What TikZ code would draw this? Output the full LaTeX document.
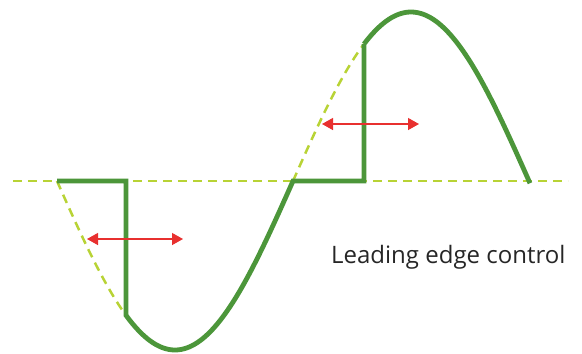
\documentclass[tikz,border=0pt]{standalone}
\usepackage{fontspec}
\setmainfont{Open Sans}
\usetikzlibrary{arrows.meta}
\definecolor{wavegreen}{HTML}{4C963A}
\definecolor{limedash}{HTML}{B8D335}
\definecolor{arrowred}{HTML}{E8302F}
\begin{document}
\begin{tikzpicture}[x=1pt, y=-1pt,
    wave/.style={line width=4.8pt, wavegreen, line join=miter},
    ghost/.style={line width=2.5pt, limedash, dash pattern=on 9pt off 6pt},
    shift arrow/.style={line width=1.3pt, arrowred, {Triangle[length=11pt,width=12pt]}-{Triangle[length=11pt,width=12pt]}}]
    \useasboundingbox (0,0) rectangle (582,354);

    % Zero line
    \coordinate (zl) at (13,181);
    \coordinate (zr) at (568,181);
    \draw[ghost] (zl) -- (zr);

    % Full sine (dashed where cut)
    \draw[ghost] plot[domain=57:126, samples=30] (\x, {181+169*sin((\x-57)/236*180)});
    \draw[ghost] plot[domain=293:364, samples=30] (\x, {181+169*sin((\x-57)/236*180)});

    % Leading edge controlled wave
    \draw[wave] (57,181) -- (126,181) -- (126,315)
        -- plot[domain=126:293, samples=80] (\x, {181+169*sin((\x-57)/236*180)})
        -- (364,181) -- (364,44)
        -- plot[domain=364:530, samples=80] (\x, {181+169*sin((\x-57)/236*180)});

    % Shift arrows
    \coordinate (a1l) at (87,239);
    \coordinate (a1r) at (183,239);
    \draw[shift arrow] (a1l) -- (a1r);
    \coordinate (a2l) at (322,124);
    \coordinate (a2r) at (419,124);
    \draw[shift arrow] (a2l) -- (a2r);

    % Label
    \node[anchor=base west, inner sep=0pt, font=\fontsize{24}{28}\selectfont, text=black!85] (label) at (331,263) {Leading edge control};
\end{tikzpicture}
\end{document}
